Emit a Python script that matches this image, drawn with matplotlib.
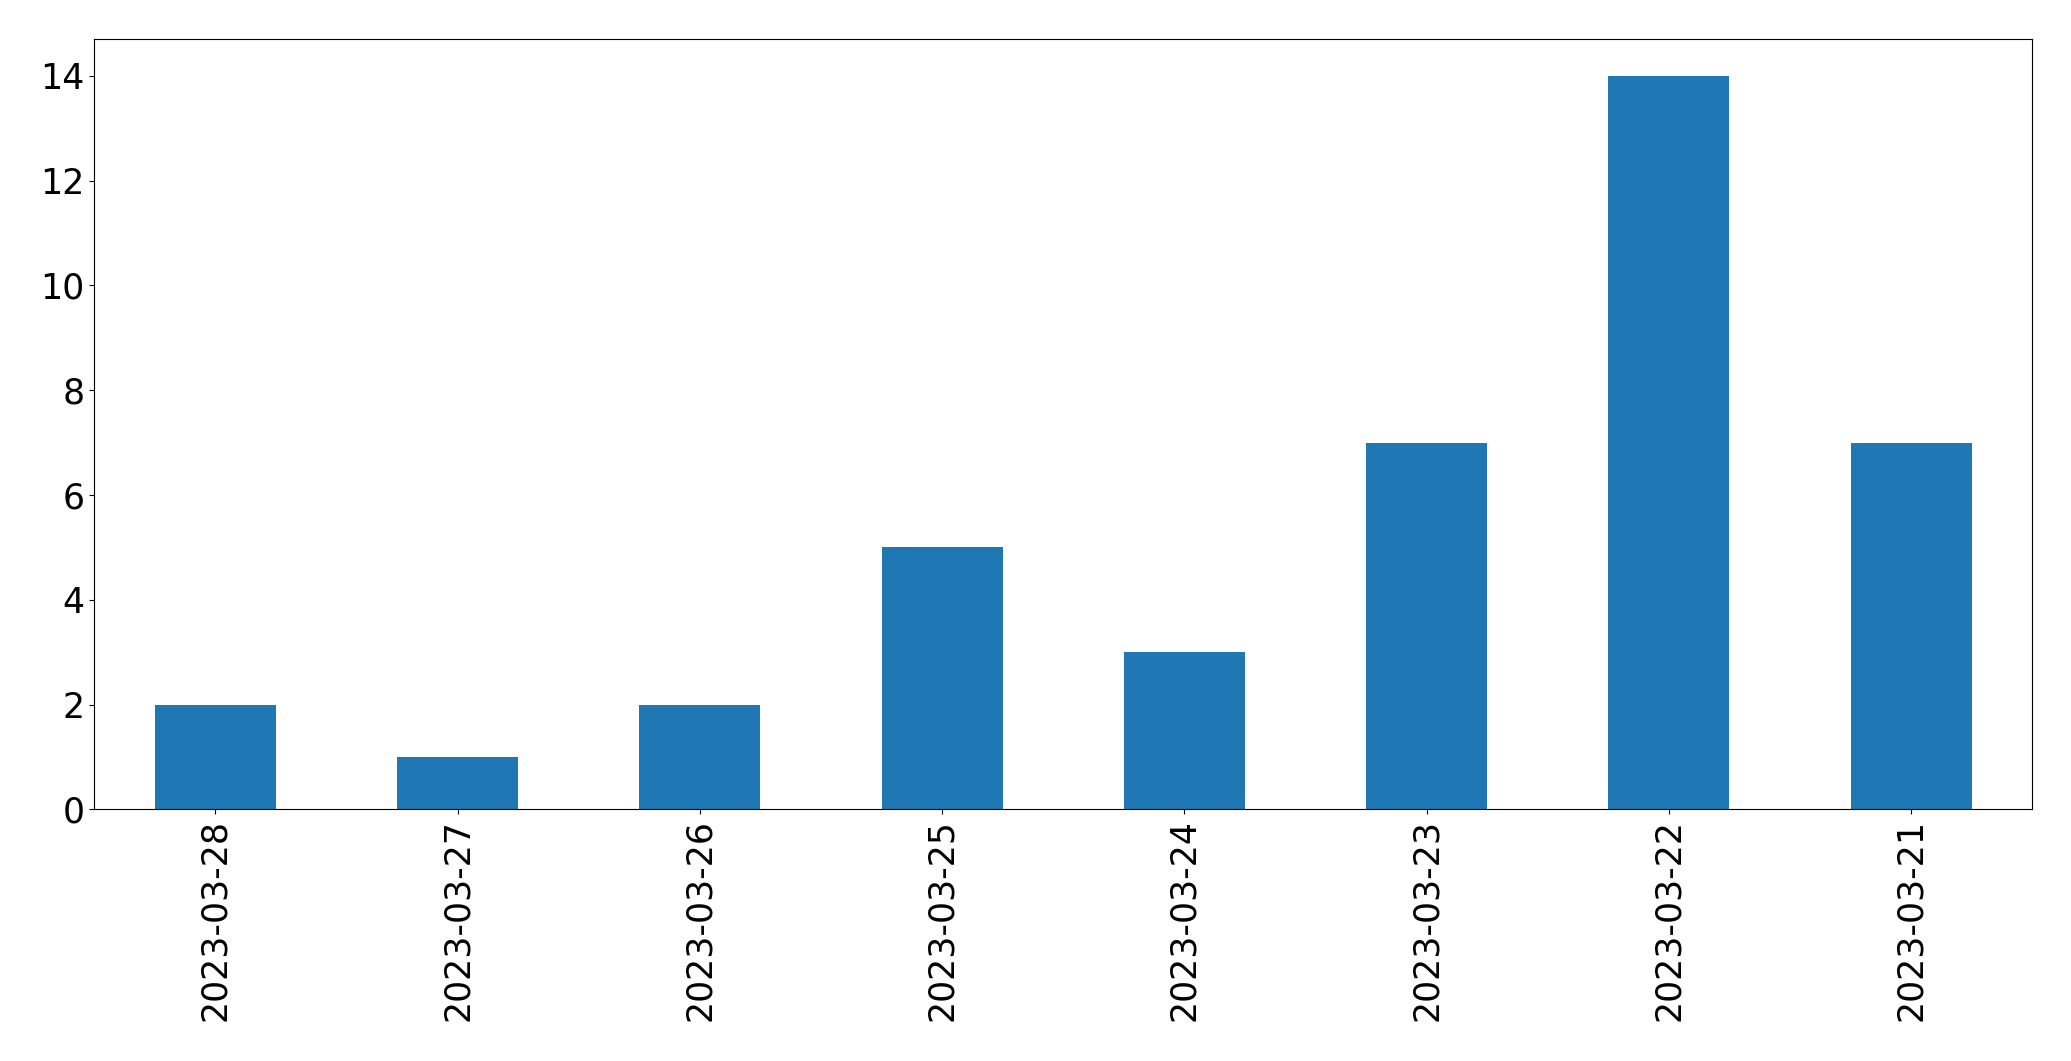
import pandas as pd
import matplotlib
matplotlib.use("Agg")
import matplotlib.pyplot as plt

dates = ["2023-03-28", "2023-03-27", "2023-03-26", "2023-03-25",
         "2023-03-24", "2023-03-23", "2023-03-22", "2023-03-21"]
counts = [2, 1, 2, 5, 3, 7, 14, 7]

serie = pd.Series(counts, index=dates)

fig, ax = plt.subplots(figsize=(20.71, 10.61), dpi=100)
serie.plot.bar(ax=ax, color="#1f77b4", fontsize=25)
ax.tick_params(axis="x", labelrotation=90)

fig.subplots_adjust(left=0.0455, right=0.9813, top=0.963, bottom=0.2372)
fig.savefig("out.png", dpi=100)
